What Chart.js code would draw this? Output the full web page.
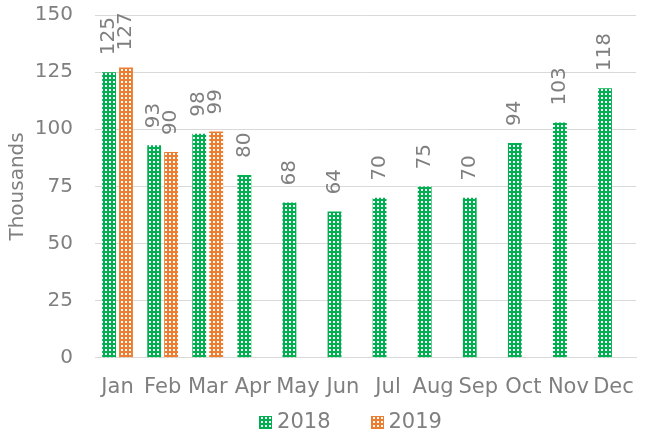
<!DOCTYPE html>
<html>
<head>
<meta charset="utf-8">
<script src="https://cdn.jsdelivr.net/npm/chart.js@4"></script>
<style>
  html, body { margin: 0; padding: 0; background: #fff; }
  #wrap { width: 646px; height: 434px; }
</style>
</head>
<body>
<div id="wrap"><canvas id="c" width="646" height="434"></canvas></div>
<script>
const categories = ['Jan','Feb','Mar','Apr','May','Jun','Jul','Aug','Sep','Oct','Nov','Dec'];
const values2018 = [125, 93, 98, 80, 68, 64, 70, 75, 70, 94, 103, 118];
const values2019 = [127, 90, 99, null, null, null, null, null, null, null, null, null];
const seriesNames = ['2018', '2019'];
const yTicks = [0, 25, 50, 75, 100, 125, 150];

const GREEN = '#00B050';
const ORANGE = '#ED7D31';
const TEXT = '#7F7F7F';
const FONT = "'DejaVu Sans', sans-serif";

function makePattern(color) {
  const p = document.createElement('canvas');
  p.width = 4; p.height = 4;
  const g = p.getContext('2d');
  g.fillStyle = color;
  g.fillRect(0, 0, 4, 4);
  g.fillStyle = '#ffffff';
  g.fillRect(1, 1, 2, 2);
  return document.getElementById('c').getContext('2d').createPattern(p, 'repeat');
}

const labelPlugin = {
  id: 'rotLabels',
  afterDatasetsDraw(chart) {
    const ctx = chart.ctx;
    chart.data.datasets.forEach((ds, i) => {
      const meta = chart.getDatasetMeta(i);
      meta.data.forEach((el, j) => {
        const v = ds.data[j];
        if (v === null || v === undefined) return;
        ctx.save();
        ctx.translate(el.x, el.y - 17);
        ctx.rotate(-Math.PI / 2);
        ctx.font = '20px ' + FONT;
        ctx.fillStyle = TEXT;
        ctx.textAlign = 'left';
        ctx.textBaseline = 'middle';
        ctx.fillText(String(v), 0, 0);
        ctx.restore();
      });
    });
  }
};

const legendPlugin = {
  id: 'bottomLegend',
  afterDraw(chart) {
    const ctx = chart.ctx;
    const ca = chart.chartArea;
    ctx.save();
    ctx.font = '21px ' + FONT;
    const box = 13, gapText = 5, gapItem = 40;
    const items = chart.data.datasets.map(ds => ({ label: ds.label, fill: ds.backgroundColor, w: ctx.measureText(ds.label).width }));
    let total = 0;
    items.forEach((it, k) => { total += box + gapText + it.w + (k < items.length - 1 ? gapItem : 0); });
    const cx = (ca.left + ca.right) / 2 - 15;
    const cy = chart.height - 12;
    let x = cx - total / 2;
    items.forEach(it => {
      ctx.fillStyle = it.fill;
      ctx.fillRect(Math.round(x), Math.round(cy - box / 2), box, box);
      x += box + gapText;
      ctx.fillStyle = TEXT;
      ctx.textAlign = 'left';
      ctx.textBaseline = 'middle';
      ctx.fillText(it.label, x, cy + 1);
      x += it.w + gapItem;
    });
    ctx.restore();
  }
};

new Chart(document.getElementById('c'), {
  type: 'bar',
  data: {
    labels: categories,
    datasets: [
      { label: seriesNames[0], data: values2018, backgroundColor: makePattern(GREEN), borderWidth: 0 },
      { label: seriesNames[1], data: values2019, backgroundColor: makePattern(ORANGE), borderWidth: 0 }
    ]
  },
  options: {
    responsive: false,
    animation: false,
    devicePixelRatio: 1,
    categoryPercentage: 0.75,
    barPercentage: 0.82,
    layout: { padding: { top: 15, right: 10, left: 6, bottom: 25 } },
    plugins: {
      legend: { display: false },
      tooltip: { enabled: false }
    },
    scales: {
      x: {
        grid: { display: false },
        border: { color: '#D9D9D9', width: 1 },
        ticks: { color: TEXT, font: { family: FONT, size: 21 }, maxRotation: 0, autoSkip: false, padding: 9 }
      },
      y: {
        min: 0, max: 150,
        afterBuildTicks(scale) { scale.ticks = yTicks.map(v => ({ value: v })); },
        afterFit(scale) { scale.width = 89; scale.paddingTop = 0; scale.paddingBottom = 0; },
        grid: { color: '#D9D9D9', lineWidth: 1, drawTicks: false },
        border: { display: false },
        ticks: { color: TEXT, font: { family: FONT, size: 20 }, padding: 22 },
        title: { display: true, text: 'Thousands', color: TEXT, font: { family: FONT, size: 20 }, padding: { top: 0, bottom: 0 } }
      }
    }
  },
  plugins: [labelPlugin, legendPlugin]
});
</script>
</body>
</html>
